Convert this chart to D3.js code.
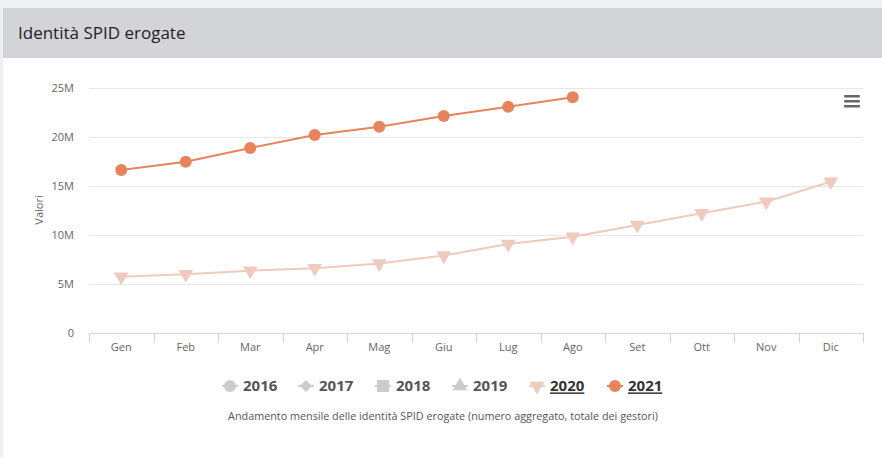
<!DOCTYPE html>
<html><head><meta charset="utf-8">
<script src="https://cdn.jsdelivr.net/npm/d3@7"></script>
<style>
html,body{margin:0;padding:0;background:#eef0f4;}
body{width:882px;height:458px;overflow:hidden;font-family:"Open Sans",sans-serif;}
</style></head>
<body>
<svg id="c" width="882" height="458"></svg>
<script>
const months = ["Gen","Feb","Mar","Apr","Mag","Giu","Lug","Ago","Set","Ott","Nov","Dic"];
const yTicks = [0, 5e6, 10e6, 15e6, 20e6, 25e6];
const yTickLabels = ["0","5M","10M","15M","20M","25M"];
const values2020 = [5.74e6, 5.99e6, 6.36e6, 6.6e6, 7.1e6, 7.9e6, 9.08e6, 9.83e6, 11.02e6, 12.21e6, 13.4e6, 15.44e6];
const values2021 = [16.63e6, 17.48e6, 18.88e6, 20.2e6, 21.05e6, 22.14e6, 23.09e6, 24.05e6];
const legendYears = ["2016","2017","2018","2019","2020","2021"];
const legendSymbols = ["circle","diamond","square","triangle","triangleDown","circle"];
const title = "Identità SPID erogate";
const caption = "Andamento mensile delle identità SPID erogate (numero aggregato, totale dei gestori)";

const svg = d3.select("#c");
// panel
svg.append("rect").attr("x",3).attr("y",8).attr("width",879).attr("height",450).attr("fill","#ffffff");
svg.append("rect").attr("x",3).attr("y",8).attr("width",879).attr("height",50).attr("fill","#d3d4d8");
svg.append("text").attr("x",18).attr("y",39).text(title)
  .attr("font-family","'Open Sans',sans-serif").attr("font-size",17).attr("font-weight",500).attr("fill","#1f1d2b");

const x = d3.scaleBand().domain(months).range([89,863]);
const y = d3.scaleLinear().domain([0,25e6]).range([333,88]);

// gridlines
svg.append("g").selectAll("line").data(yTicks).join("line")
  .attr("x1",89).attr("x2",863).attr("y1",d=>y(d)+0.5).attr("y2",d=>y(d)+0.5)
  .attr("stroke","#e6e6e6").attr("stroke-width",1);

// y labels
const yAxis = d3.axisLeft(y).tickValues(yTicks).tickSize(0).tickFormat((d,i)=>yTickLabels[i]);
const gy = svg.append("g").attr("transform","translate(74,0)").call(yAxis);
gy.select(".domain").remove();
gy.selectAll("text").attr("font-family","'Open Sans',sans-serif").attr("font-size",11).attr("fill","#666").attr("dy","0.32em").attr("x",0);

svg.append("text").attr("transform","translate(43,210) rotate(-90)").attr("text-anchor","middle")
  .attr("font-family","'Open Sans',sans-serif").attr("font-size",11).attr("fill","#666").text("Valori");

// x axis
const xAxis = d3.axisBottom(x).tickSize(0).tickPadding(10);
const gx = svg.append("g").attr("transform","translate(0,333)").call(xAxis);
gx.select(".domain").remove();
gx.selectAll("text").attr("font-family","'Open Sans',sans-serif").attr("font-size",11).attr("fill","#666");
svg.append("line").attr("x1",89).attr("x2",863).attr("y1",333.5).attr("y2",333.5).attr("stroke","#ccd6eb");
const bounds = months.map(m=>x(m)).concat([x.range()[1]]);
svg.append("g").selectAll("line").data(bounds).join("line")
  .attr("x1",d=>Math.round(d)+0.5).attr("x2",d=>Math.round(d)+0.5).attr("y1",333).attr("y2",343)
  .attr("stroke","#ccd6eb");

const cx = m => x(m)+x.bandwidth()/2;
const c2020 = "#eecabf", c2021 = "#e8845c";
const tri = d3.symbol().type(d3.symbolTriangle).size(95);

// 2020
svg.append("path").datum(values2020)
  .attr("d", d3.line().x((d,i)=>cx(months[i])).y(d=>y(d)))
  .attr("fill","none").attr("stroke",c2020).attr("stroke-width",2);
svg.append("g").selectAll("path").data(values2020).join("path")
  .attr("d",tri).attr("transform",(d,i)=>`translate(${cx(months[i])},${y(d)}) rotate(180)`)
  .attr("fill",c2020);

// 2021
svg.append("path").datum(values2021)
  .attr("d", d3.line().x((d,i)=>cx(months[i])).y(d=>y(d)))
  .attr("fill","none").attr("stroke",c2021).attr("stroke-width",2);
svg.append("g").selectAll("circle").data(values2021).join("circle")
  .attr("cx",(d,i)=>cx(months[i])).attr("cy",d=>y(d)).attr("r",6).attr("fill",c2021);

// menu icon
[0,5,10].forEach(o=>svg.append("rect").attr("x",844).attr("y",95+o).attr("width",16).attr("height",2.6).attr("rx",1).attr("fill","#666"));

// legend
const legendX = [222, 298, 375, 452, 529, 607];
const legendColors = ["#cccccc","#cccccc","#cccccc","#cccccc",c2020,c2021];
const lg = svg.append("g");
legendYears.forEach((yr,i)=>{
  const g = lg.append("g").attr("transform",`translate(${legendX[i]},386)`);
  g.append("line").attr("x1",0).attr("x2",16).attr("y1",0).attr("y2",0).attr("stroke",legendColors[i]).attr("stroke-width",2);
  const s = legendSymbols[i];
  if(s==="circle") g.append("circle").attr("cx",8).attr("cy",0).attr("r",6).attr("fill",legendColors[i]);
  else if(s==="diamond") g.append("path").attr("d",d3.symbol().type(d3.symbolDiamond2).size(90)).attr("transform","translate(8,0)").attr("fill",legendColors[i]);
  else if(s==="square") g.append("rect").attr("x",2).attr("y",-6).attr("width",12).attr("height",12).attr("fill",legendColors[i]);
  else if(s==="triangle") g.append("path").attr("d",tri).attr("transform","translate(8,0)").attr("fill",legendColors[i]);
  else g.append("path").attr("d",tri).attr("transform","translate(8,0) rotate(180)").attr("fill",legendColors[i]);
  const t = g.append("text").attr("x",21).attr("y",0).attr("dy","0.36em").text(yr)
    .attr("font-family","'Open Sans',sans-serif").attr("font-size",15).attr("font-weight","bold")
    .attr("fill", i>=4 ? "#333333" : "#555555");
  if(i>=4) t.attr("text-decoration","underline");
});

svg.append("text").attr("x",443).attr("y",420).attr("text-anchor","middle").text(caption)
  .attr("font-family","'Open Sans',sans-serif").attr("font-size",10.8).attr("fill","#555");
</script>
</body></html>
